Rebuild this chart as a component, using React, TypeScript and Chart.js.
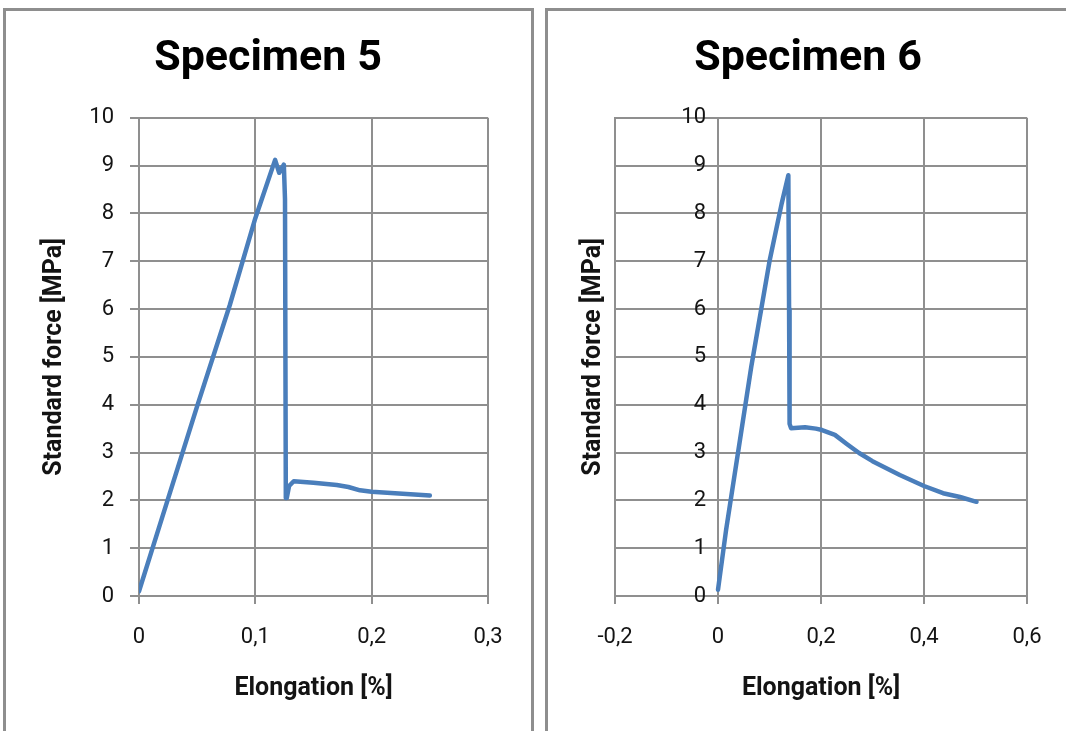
import React, { useEffect, useRef } from 'react';
import { Chart, registerables } from 'chart.js';

Chart.register(...registerables);

// ---------- data ----------
const spec5Title = 'Specimen 5';
const spec6Title = 'Specimen 6';
const xAxisTitle = 'Elongation [%]';
const yAxisTitle = 'Standard force [MPa]';

const spec5Elongation = [0, 0.02, 0.05, 0.078, 0.1, 0.117, 0.1205, 0.1245, 0.1255, 0.1262, 0.127, 0.129, 0.133, 0.15, 0.17, 0.18, 0.19, 0.2, 0.22, 0.25];
const spec5Force = [0.1, 1.65, 3.97, 6.08, 7.9, 9.12, 8.85, 9.02, 8.3, 2.05, 2.05, 2.3, 2.4, 2.37, 2.32, 2.28, 2.21, 2.18, 2.15, 2.1];

const spec6Elongation = [0, 0.0157, 0.0647, 0.1, 0.1235, 0.1366, 0.138, 0.139, 0.1418, 0.169, 0.19, 0.202, 0.227, 0.25, 0.274, 0.3, 0.353, 0.4, 0.437, 0.47, 0.502];
const spec6Force = [0.13, 1.38, 4.8, 7.0, 8.2, 8.8, 6.0, 3.6, 3.51, 3.53, 3.5, 3.47, 3.37, 3.18, 2.99, 2.82, 2.53, 2.3, 2.15, 2.07, 1.97];

const spec5XTicks = { min: 0, max: 0.3, step: 0.1 };
const spec6XTicks = { min: -0.2, max: 0.6, step: 0.2 };
const forceTicks = { min: 0, max: 10, step: 1 };

// ---------- styles ----------
const FONT = "Roboto, 'Liberation Sans', Arial, sans-serif";
const GRID = '#8f8f8f';
const LINE = '#4a7ebb';
const TEXT = '#141414';

const fmt = (v: number) => {
  const r = Math.round(v * 10) / 10;
  if (r === 0) return '0';
  return String(r).replace('.', ',');
};

type Cfg = {
  title: string;
  xs: number[];
  ys: number[];
  xTicks: { min: number; max: number; step: number };
  padLeft: number;
  padRight: number;
  yWidth: number;
  yTitleLH: number;
  rightStyle: boolean;
};

function buildConfig(c: Cfg): any {
  const pts = c.xs.map((x, i) => ({ x, y: c.ys[i] }));
  const tickFont = { family: FONT, size: 22 };
  const scales: any = {
    x: {
      type: 'linear',
      position: 'bottom',
      min: c.xTicks.min,
      max: c.xTicks.max,
      afterFit: (s: any) => { s.height = 107.6; },
      ticks: {
        stepSize: c.xTicks.step,
        callback: (v: any) => fmt(Number(v)),
        font: tickFont,
        color: TEXT,
        padding: 20,
        maxRotation: 0,
        autoSkip: false,
      },
      grid: { color: GRID, lineWidth: 2, tickLength: 8, drawTicks: true },
      border: { color: GRID, width: 2 },
      title: {
        display: true,
        text: xAxisTitle,
        font: { family: FONT, size: 25, weight: 'bold' },
        color: TEXT,
        padding: { top: 0, bottom: 0 },
      },
    },
    y: {
      type: 'linear',
      position: 'left',
      min: forceTicks.min,
      max: forceTicks.max,
      afterFit: (s: any) => { s.width = c.yWidth; },
      ticks: {
        display: !c.rightStyle,
        stepSize: forceTicks.step,
        callback: (v: any) => fmt(Number(v)),
        font: tickFont,
        color: TEXT,
        padding: 16,
      },
      grid: { color: GRID, lineWidth: 2, tickLength: 9, drawTicks: !c.rightStyle },
      border: { color: GRID, width: 2 },
      title: {
        display: true,
        text: yAxisTitle,
        font: { family: FONT, size: 25, weight: 'bold', lineHeight: c.yTitleLH + 'px' },
        color: TEXT,
        padding: { top: 0, bottom: 0 },
      },
    },
  };
  if (c.rightStyle) {
    // tick marks where the value axis crosses x = 0
    scales.ytick = {
      type: 'linear',
      axis: 'y',
      position: { x: 0 },
      min: forceTicks.min,
      max: forceTicks.max,
      ticks: { display: false, stepSize: forceTicks.step },
      grid: { drawOnChartArea: false, drawTicks: true, tickLength: 11, color: GRID, lineWidth: 2 },
      border: { display: false },
    };
    // tick labels, set just left of those tick marks
    scales.ylab = {
      type: 'linear',
      axis: 'y',
      position: { x: -0.0233 },
      min: forceTicks.min,
      max: forceTicks.max,
      ticks: {
        display: true,
        stepSize: forceTicks.step,
        callback: (v: any) => fmt(Number(v)),
        font: tickFont,
        color: TEXT,
      },
      grid: { display: false },
      border: { display: false },
    };
  }
  return {
    type: 'scatter',
    data: {
      datasets: [
        {
          data: pts,
          xAxisID: 'x',
          yAxisID: 'y',
          showLine: true,
          borderColor: LINE,
          backgroundColor: LINE,
          borderWidth: 4.5,
          pointRadius: 0,
          tension: 0,
          borderCapStyle: 'round',
          borderJoinStyle: 'round',
        },
      ],
    },
    options: {
      responsive: false,
      animation: false,
      devicePixelRatio: 1,
      layout: { padding: { left: c.padLeft, right: c.padRight, top: 0, bottom: 27.4 } },
      plugins: {
        legend: { display: false },
        tooltip: { enabled: false },
        title: {
          display: true,
          text: c.title,
          color: '#000',
          font: { family: FONT, size: 43, weight: 'bold', lineHeight: 1.2 },
          padding: { top: 33, bottom: 33.2 },
        },
      },
      scales,
    },
  };
}

function ChartCanvas(props: { cfg: Cfg; left: number; width: number }) {
  const ref = useRef<HTMLCanvasElement | null>(null);
  useEffect(() => {
    if (!ref.current) return;
    const chart = new Chart(ref.current, buildConfig(props.cfg));
    return () => chart.destroy();
  }, []);
  return (
    <canvas
      ref={ref}
      width={props.width}
      height={731}
      style={{ position: 'absolute', left: props.left, top: 0, width: props.width, height: 731 }}
    />
  );
}

export default function App() {
  const panel = (left: number, width: number): React.CSSProperties => ({
    position: 'absolute',
    left,
    top: 8,
    width,
    height: 760,
    border: '3px solid #8e8e8e',
    boxSizing: 'border-box',
    background: '#ffffff',
  });
  return (
    <div style={{ position: 'fixed', left: 0, top: 0, width: 1066, height: 731, overflow: 'hidden', background: '#ffffff' }}>
      <div style={panel(3, 531)} />
      <div style={panel(545, 540)} />
      <ChartCanvas
        left={0}
        width={537}
        cfg={{
          title: spec5Title,
          xs: spec5Elongation,
          ys: spec5Force,
          xTicks: spec5XTicks,
          padLeft: 48,
          padRight: 49,
          yWidth: 91,
          yTitleLH: 14,
          rightStyle: false,
        }}
      />
      <ChartCanvas
        left={545}
        width={521}
        cfg={{
          title: spec6Title,
          xs: spec6Elongation,
          ys: spec6Force,
          xTicks: spec6XTicks,
          padLeft: 44,
          padRight: 39,
          yWidth: 26,
          yTitleLH: 10,
          rightStyle: true,
        }}
      />
    </div>
  );
}
